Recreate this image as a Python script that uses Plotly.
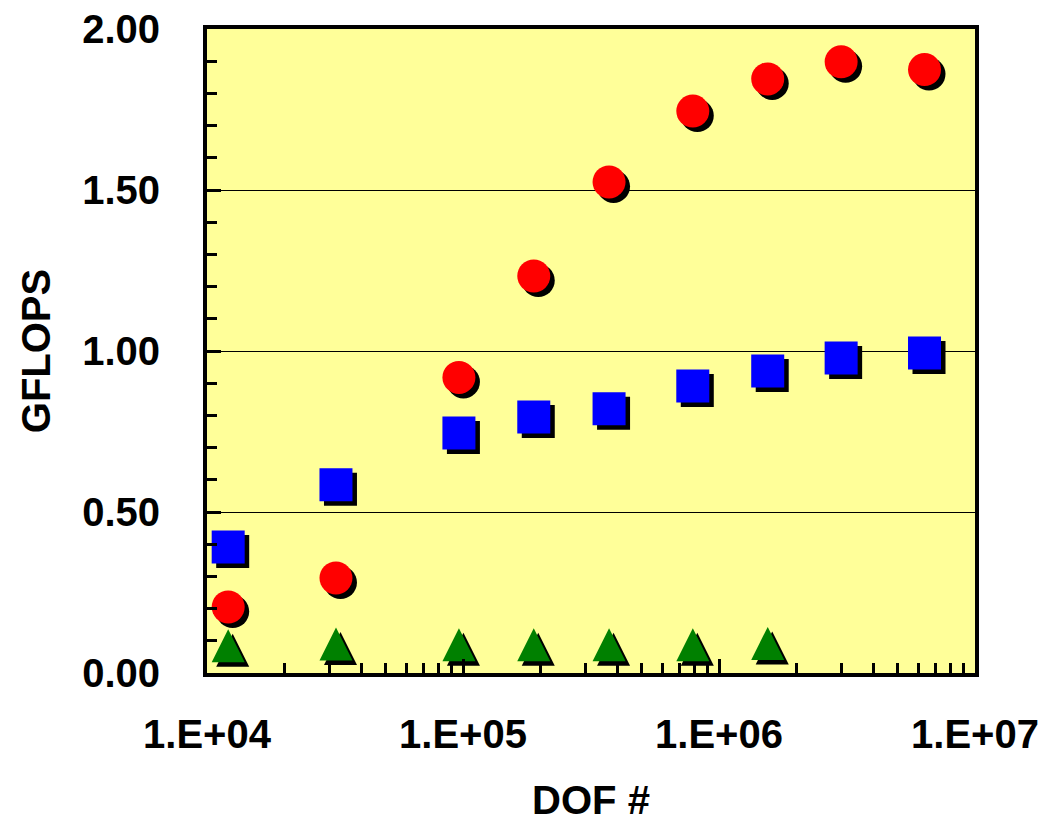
import plotly.graph_objects as go
import numpy as np

# ---- data ----
dof = [12100, 31900, 96400, 189000, 372000, 790000, 1550000, 3000000, 6350000]
gflops_red = [0.205, 0.295, 0.918, 1.233, 1.525, 1.745, 1.845, 1.898, 1.874]
gflops_blue = [0.391, 0.585, 0.745, 0.795, 0.821, 0.891, 0.938, 0.978, 0.994]
dof_green = [12100, 31900, 96400, 189000, 372000, 790000, 1550000]
gflops_green = [0.085, 0.09, 0.088, 0.088, 0.088, 0.088, 0.092]

x_tickvals = [1e4, 1e5, 1e6, 1e7]
x_ticktext = ["1.E+04", "1.E+05", "1.E+06", "1.E+07"]
y_tickvals = [0, 0.5, 1.0, 1.5, 2.0]
y_ticktext = ["0.00", "0.50", "1.00", "1.50", "2.00"]

# ---- style ----
FONT = "Liberation Sans, Arial, sans-serif"
MS = 33
SHADOW_PX = 4.5
X_RANGE = [4, 7]
Y_RANGE = [0, 2]
plot_w = 1045 - 207 - 70
plot_h = 822 - 29 - 149
dx = SHADOW_PX * (X_RANGE[1] - X_RANGE[0]) / plot_w
dy = SHADOW_PX * (Y_RANGE[1] - Y_RANGE[0]) / plot_h

minor_x = [k * 10 ** d for d in range(4, 7) for k in range(2, 10)]

tri = dict(symbol="arrow-down", angle=180, standoff=MS / 2, size=MS)

fig = go.Figure()

# shadows (base axes, shifted range -> offset right/down)
fig.add_trace(go.Scatter(x=dof, y=gflops_red, mode="markers", xaxis="x", yaxis="y",
                         marker=dict(symbol="circle", size=MS, color="black", line=dict(width=0)),
                         hoverinfo="skip", showlegend=False))
fig.add_trace(go.Scatter(x=dof, y=gflops_blue, mode="markers", xaxis="x", yaxis="y",
                         marker=dict(symbol="square", size=MS, color="black", line=dict(width=0)),
                         hoverinfo="skip", showlegend=False))
fig.add_trace(go.Scatter(x=dof_green, y=gflops_green, mode="markers", xaxis="x", yaxis="y",
                         marker=dict(**tri, color="black", line=dict(width=0)),
                         hoverinfo="skip", showlegend=False))

# front markers
fig.add_trace(go.Scatter(x=dof, y=gflops_red, mode="markers", xaxis="x2", yaxis="y2",
                         marker=dict(symbol="circle", size=MS, color="#FF0000", line=dict(width=0)),
                         showlegend=False))
fig.add_trace(go.Scatter(x=dof, y=gflops_blue, mode="markers", xaxis="x2", yaxis="y2",
                         marker=dict(symbol="square", size=MS, color="#0000FF", line=dict(width=0)),
                         showlegend=False))
fig.add_trace(go.Scatter(x=dof_green, y=gflops_green, mode="markers", xaxis="x2", yaxis="y2",
                         marker=dict(**tri, color="#008000", line=dict(width=0)),
                         showlegend=False))

tickfont = dict(family=FONT, size=40, color="black", weight="bold")

fig.update_layout(
    width=1045, height=822,
    margin=dict(l=207, r=70, t=29, b=149, autoexpand=False),
    paper_bgcolor="white",
    plot_bgcolor="#FFFF99",
    xaxis=dict(type="log", range=[X_RANGE[0] - dx, X_RANGE[1] - dx], visible=False,
               showgrid=False, zeroline=False, automargin=False),
    yaxis=dict(range=[Y_RANGE[0] + dy, Y_RANGE[1] + dy], visible=False,
               showgrid=False, zeroline=False, automargin=False),
    xaxis2=dict(type="log", range=X_RANGE, overlaying="x", anchor="y2", side="bottom",
                tickmode="array", tickvals=x_tickvals, ticktext=x_ticktext,
                ticks="inside", ticklen=14, tickwidth=3, tickcolor="black",
                minor=dict(tickmode="array", tickvals=minor_x, ticks="inside",
                           ticklen=10, tickwidth=3, tickcolor="black", showgrid=False),
                showline=True, linewidth=4, linecolor="black", mirror=True,
                showgrid=False, zeroline=False, automargin=False,
                tickfont=tickfont, ticklabelstandoff=23,
                title=dict(text="DOF #", font=tickfont, standoff=37)),
    yaxis2=dict(range=Y_RANGE, overlaying="y", anchor="x2", side="left",
                tickmode="array", tickvals=y_tickvals, ticktext=y_ticktext,
                ticks="inside", ticklen=14, tickwidth=3, tickcolor="black",
                minor=dict(dtick=0.1, tick0=0, ticks="inside",
                           ticklen=10, tickwidth=3, tickcolor="black", showgrid=False),
                showline=True, linewidth=4, linecolor="black", mirror=True,
                showgrid=True, gridcolor="black", gridwidth=1, zeroline=False,
                automargin=False,
                tickfont=tickfont, ticklabelstandoff=35,
                title=dict(text="GFLOPS", font=tickfont, standoff=20)),
)

fig.write_html("out.html", config={"displayModeBar": False},
               post_script="document.body.style.margin='0';")
